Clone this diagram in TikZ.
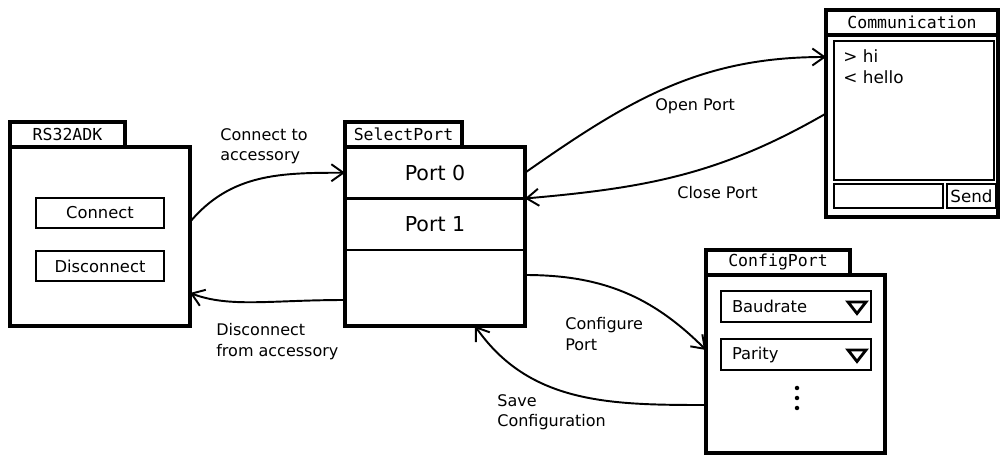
\documentclass[tikz,border=0pt]{standalone}
\usepackage{fontspec}
\setmainfont{DejaVu Sans}
\setmonofont{DejaVu Sans Mono}
\usetikzlibrary{arrows.meta,positioning}

\tikzset{
	win/.style={draw,line width=2pt,inner sep=0pt,outer sep=0pt,anchor=north west},
	tab/.style={draw,line width=2pt,inner sep=0pt,outer sep=0pt,anchor=south west,
		minimum height=5mm,font=\ttfamily\fontsize{9.4}{11}\selectfont},
	btn/.style={draw,line width=1.3pt,inner sep=0pt,outer sep=0pt,minimum width=25.6mm,
		minimum height=6mm,font=\fontsize{9.3}{12}\selectfont},
	row/.style={inner sep=0pt,outer sep=0pt,anchor=north west,minimum width=36mm,
		minimum height=10.3mm,font=\fontsize{11.7}{14}\selectfont},
	drop/.style={draw,line width=1.4pt,inner xsep=2.2mm,inner ysep=0pt,outer sep=0pt,
		text width=25.6mm,align=left,minimum height=6.2mm,anchor=north west,
		font=\fontsize{9.3}{11}\selectfont},
	field/.style={draw,line width=1.6pt,inner sep=0pt,outer sep=0pt,anchor=north west,
		font=\fontsize{9.5}{12}\selectfont},
	lbl/.style={inner sep=0pt,anchor=north west,align=left,font=\fontsize{9.1}{11.7}\selectfont},
	flow/.style={->,line width=1.1pt},
}

\begin{document}
\begin{tikzpicture}[x=0.2mm,y=-0.2mm,>={Straight Barb[length=2.4mm,width=3.4mm]}]
	\useasboundingbox (0,0) rectangle (1001,457);

	% accessory window
	\node[win,minimum width=36mm,minimum height=35.8mm] (rs) at (10,147) {};
	\node[tab,minimum width=23mm] (rstab) at (rs.north west) {RS32ADK};
	\node[btn] (conn) at (100,213) {Connect};
	\node[btn] (disc) at (100,266) {Disconnect};

	% port list
	\node[win,minimum width=36mm,minimum height=35.8mm] (sp) at (345,147) {};
	\node[tab,minimum width=23.4mm] (sptab) at (sp.north west) {SelectPort};
	\node[row] (p0) at (sp.north west) {Port 0};
	\node[row] (p1) at (p0.south west) {Port 1};
	\draw[line width=1.4pt] (p0.south west) -- (p0.south east)
		(p1.south west) -- (p1.south east);

	% terminal
	\node[win,minimum width=34.4mm,minimum height=41.4mm] (comm) at (826,10) {};
	\node[tab,anchor=north west,minimum width=34.4mm] (commtab) at (comm.north west) {Communication};
	\node[field,minimum width=32mm,minimum height=27.8mm] (log) at (834,41) {};
	\node[lbl,font=\fontsize{9.6}{12}\selectfont] (logtxt)
		at ([xshift=1.8mm,yshift=-1.7mm]log.north west) {> hi\\< hello};
	\node[field,minimum width=21.8mm,minimum height=4.8mm] (input) at (834,184) {};
	\node[field,minimum width=9.8mm,minimum height=4.8mm] (send) at (947,184) {Send};

	% settings
	\node[win,minimum width=35.8mm,minimum height=35.6mm] (cfg) at (706,275) {};
	\node[tab,minimum width=28.8mm] (cfgtab) at (cfg.north west) {ConfigPort};
	\node[drop] (baud) at (721,291) {Baudrate};
	\node[drop] (par) at (721,339) {Parity};
	\foreach \d in {baud,par}
		\draw[line width=1.6pt,line join=miter]
		([xshift=-4.6mm,yshift=0.9mm]\d.east) -- ++(3.6mm,0) -- ++(-1.8mm,-2.3mm) -- cycle;
	\foreach \y in {388,398,408}
		\fill (797,\y) circle (0.45mm);

	% transitions
	\draw[flow] ([yshift=2.9mm]rs.east) to[out=50,in=180] (p0.west);
	\draw[flow] ([yshift=-12.7mm]sp.west) .. controls +(-75,0) and +(40,15) .. ([yshift=-11.3mm]rs.east);
	\draw[flow] (p0.east) to[out=35,in=180] ([yshift=11.3mm]comm.west);
	\draw[flow] (comm.west) to[out=210,in=5] (p0.south east);
	\draw[flow] ([yshift=-7.7mm]sp.east) to[out=0,in=135] ([yshift=2.8mm]cfg.west);
	\draw[flow] ([yshift=-8.2mm]cfg.west) to[out=180,in=-55] ([xshift=8mm]sp.south);

	\path
		(220,128) node[lbl] (lconn) {Connect to\\accessory}
		(216,323) node[lbl] (ldisc) {Disconnect\\from accessory}
		(655,98)  node[lbl] (lopen) {Open Port}
		(677,186) node[lbl] (lclose) {Close Port}
		(565,317) node[lbl] (lconf) {Configure\\Port}
		(497,394) node[lbl] (lsave) {Save\\Configuration};
\end{tikzpicture}
\end{document}
